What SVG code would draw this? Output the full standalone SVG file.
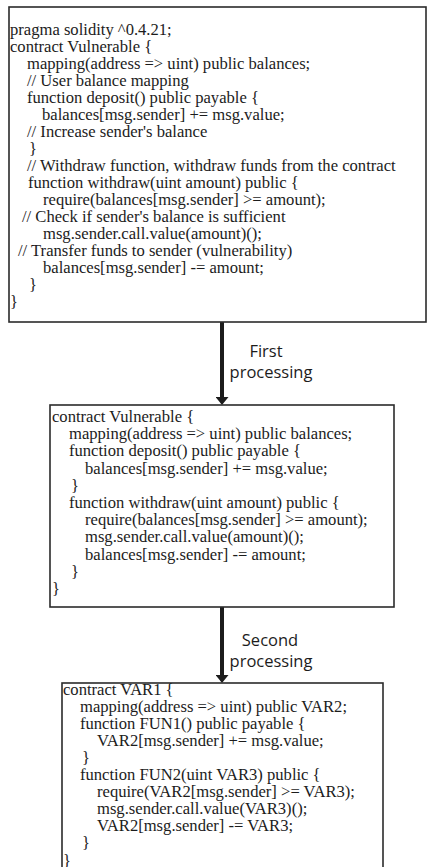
<svg xmlns="http://www.w3.org/2000/svg" width="428" height="867" viewBox="0 0 428 867">
<style>
.box{fill:#fff;stroke:#2b2b2b;stroke-width:1.6}
.code{font-family:"Liberation Serif","Times New Roman","DejaVu Serif",serif;font-size:16.6px;fill:#1c1c1c}
.lbl{font-family:"Open Sans","DejaVu Sans",sans-serif;font-size:16.5px;fill:#1c1c1c;text-anchor:middle}
.shaft{stroke:#1c1c1c;stroke-width:4;fill:none;marker-end:url(#ah)}
</style>
<defs>
<marker id="ah" markerUnits="userSpaceOnUse" viewBox="0 0 8 13" markerWidth="8" markerHeight="13" refX="0" refY="6.5" orient="auto">
<path d="M0,0 L8,6.5 L0,13 Z" fill="#1c1c1c"/>
</marker>
</defs>
<rect width="428" height="867" fill="#fff"/>
<g id="connectors">
<line class="shaft" x1="222" y1="322" x2="222" y2="397"/>
<line class="shaft" x1="222" y1="607" x2="222" y2="675"/>
<text class="lbl" x="266" y="357">First</text>
<text class="lbl" x="271" y="378">processing</text>
<text class="lbl" x="270" y="646">Second</text>
<text class="lbl" x="271" y="667">processing</text>
</g>
<g id="original">
<rect class="box" x="9" y="7" width="417" height="315"/>
<g class="code">
<text x="10" y="35">pragma solidity ^0.4.21;</text>
<text x="10" y="52">contract Vulnerable {</text>
<text x="27" y="69">mapping(address =&gt; uint) public balances;</text>
<text x="27" y="86">// User balance mapping</text>
<text x="27" y="103">function deposit() public payable {</text>
<text x="42" y="120">balances[msg.sender] += msg.value;</text>
<text x="27" y="137">// Increase sender's balance</text>
<text x="29" y="154">}</text>
<text x="27" y="171">// Withdraw function, withdraw funds from the contract</text>
<text x="28" y="188">function withdraw(uint amount) public {</text>
<text x="43" y="205">require(balances[msg.sender] &gt;= amount);</text>
<text x="22" y="222">// Check if sender's balance is sufficient</text>
<text x="43" y="239">msg.sender.call.value(amount)();</text>
<text x="18" y="256">// Transfer funds to sender (vulnerability)</text>
<text x="43" y="273">balances[msg.sender] -= amount;</text>
<text x="29" y="290">}</text>
<text x="10" y="307">}</text>
</g>
</g>
<g id="first-processed">
<rect class="box" x="50" y="405" width="344" height="202"/>
<g class="code">
<text x="52" y="422">contract Vulnerable {</text>
<text x="69" y="439.2">mapping(address =&gt; uint) public balances;</text>
<text x="69" y="456.4">function deposit() public payable {</text>
<text x="85" y="473.6">balances[msg.sender] += msg.value;</text>
<text x="71" y="490.8">}</text>
<text x="69" y="508">function withdraw(uint amount) public {</text>
<text x="85" y="525.2">require(balances[msg.sender] &gt;= amount);</text>
<text x="85" y="542.4">msg.sender.call.value(amount)();</text>
<text x="85" y="559.6">balances[msg.sender] -= amount;</text>
<text x="71" y="576.8">}</text>
<text x="52" y="594">}</text>
</g>
</g>
<g id="second-processed">
<rect class="box" x="62" y="683" width="321" height="200"/>
<g class="code">
<text x="63" y="694.5">contract VAR1 {</text>
<text x="80" y="711.6">mapping(address =&gt; uint) public VAR2;</text>
<text x="80" y="728.7">function FUN1() public payable {</text>
<text x="97" y="745.8">VAR2[msg.sender] += msg.value;</text>
<text x="82" y="762.9">}</text>
<text x="80" y="780">function FUN2(uint VAR3) public {</text>
<text x="97" y="797.1">require(VAR2[msg.sender] &gt;= VAR3);</text>
<text x="97" y="814.2">msg.sender.call.value(VAR3)();</text>
<text x="97" y="831.3">VAR2[msg.sender] -= VAR3;</text>
<text x="82" y="848.4">}</text>
<text x="63" y="865.5">}</text>
</g>
</g>
</svg>
